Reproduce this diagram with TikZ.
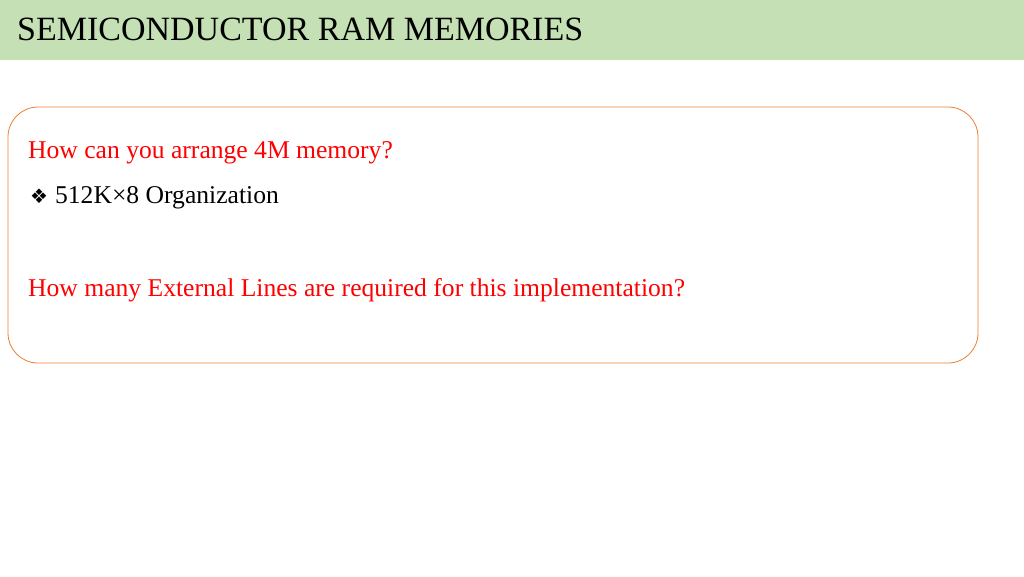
\documentclass[tikz,border=0pt]{standalone}
\usepackage{fontspec}
\setmainfont{Liberation Serif}
\newfontfamily\symfont{DejaVu Sans}
\definecolor{hdr}{HTML}{C5E0B4}
\definecolor{box}{HTML}{ED7D31}
\definecolor{qred}{HTML}{FF0000}
\tikzset{q/.style={anchor=base west,text=qred,font=\fontsize{25.6}{30}\selectfont,inner sep=0pt},
 t/.style={anchor=base west,font=\fontsize{25.6}{30}\selectfont,inner sep=0pt}}
\begin{document}
\begin{tikzpicture}[x=1pt,y=-1pt]
\useasboundingbox (0,0) rectangle (1024,576);
\fill[hdr] (0,0) rectangle (1024,60);
\node[anchor=base west,inner sep=0pt,font=\fontsize{34}{40}\selectfont] (title) at (17,40) {SEMICONDUCTOR RAM MEMORIES};
\draw[box,line width=0.8pt,rounded corners=30pt] (8,107) rectangle (978,363);
\node[q] (q1) at (28,158) {How can you arrange 4M memory?};
\node[t] (b1) at (30,203) {{\symfont\fontsize{20}{24}\selectfont ❖}\hspace{7pt}512K×8 Organization};
\node[q] (q2) at (28,296) {How many External Lines are required for this implementation?};
\end{tikzpicture}
\end{document}
